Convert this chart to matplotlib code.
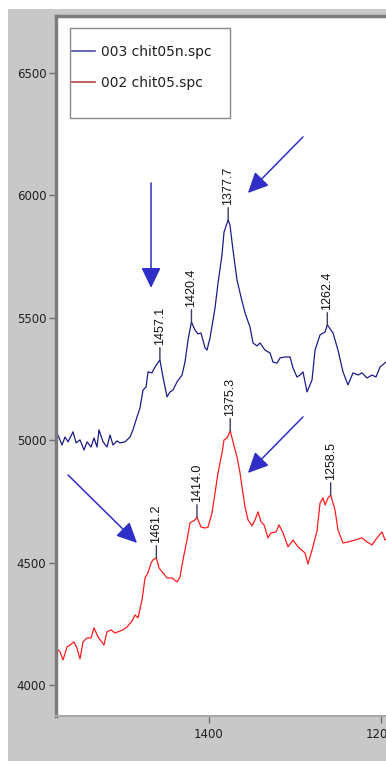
import matplotlib
matplotlib.use("Agg")
import matplotlib.pyplot as plt
from matplotlib.patches import Rectangle
from matplotlib.lines import Line2D

# upper trace: 003 chit05n.spc
wn_n = [1579.0, 1575.6, 1570.9, 1567.4, 1563.9, 1558.1, 1554.6, 1550.0, 1545.3, 1541.8,
        1537.2, 1533.7, 1530.2, 1527.9, 1523.2, 1518.6, 1515.1, 1511.6, 1507.0, 1503.5,
        1497.7, 1491.8, 1488.4, 1483.7, 1480.2, 1476.7, 1473.2, 1470.9, 1466.3, 1462.8,
        1457.1, 1453.5, 1448.8, 1445.3, 1441.8, 1437.2, 1431.4, 1427.9, 1424.4, 1420.4,
        1416.3, 1412.8, 1409.3, 1404.6, 1402.3, 1398.8, 1393.0, 1389.5, 1384.9, 1382.5,
        1377.7, 1375.6, 1372.1, 1367.4, 1362.8, 1358.1, 1352.3, 1348.8, 1344.2, 1340.7,
        1334.9, 1329.0, 1325.6, 1320.9, 1317.4, 1311.6, 1305.8, 1302.3, 1297.7, 1294.2,
        1290.7, 1286.0, 1280.2, 1276.7, 1270.9, 1265.1, 1262.4, 1255.8, 1250.0, 1244.2,
        1238.4, 1232.5, 1226.7, 1222.1, 1216.3, 1210.4, 1205.8, 1201.1, 1194.2, 1190.0]
int_n = [5001, 5021, 4980, 5013, 4993, 5034, 4989, 5001, 4960, 4993,
         4972, 5009, 4972, 5042, 4993, 4972, 5021, 4980, 4997, 4989,
         4993, 5013, 5042, 5095, 5132, 5205, 5217, 5279, 5275, 5299,
         5328, 5258, 5177, 5197, 5205, 5238, 5266, 5319, 5409, 5483,
         5450, 5434, 5438, 5377, 5368, 5418, 5540, 5642, 5757, 5851,
         5900, 5879, 5777, 5654, 5585, 5520, 5462, 5397, 5385, 5397,
         5368, 5356, 5319, 5315, 5336, 5340, 5340, 5295, 5258, 5266,
         5279, 5197, 5246, 5368, 5430, 5442, 5471, 5438, 5368, 5279,
         5226, 5275, 5266, 5275, 5254, 5266, 5258, 5299, 5319, 5330]

# lower trace: 002 chit05.spc
wn_o = [1577.9, 1573.2, 1569.7, 1565.1, 1561.6, 1557.0, 1553.5, 1550.0, 1546.5, 1541.8,
        1537.2, 1533.7, 1529.0, 1522.1, 1518.6, 1513.9, 1509.3, 1505.8, 1500.0, 1495.3,
        1489.5, 1486.0, 1482.5, 1477.9, 1474.4, 1470.9, 1467.4, 1465.1, 1461.2, 1458.1,
        1453.5, 1448.8, 1443.0, 1437.2, 1433.7, 1430.2, 1425.6, 1422.1, 1416.3, 1414.0,
        1409.3, 1404.6, 1401.1, 1396.5, 1393.0, 1389.5, 1384.9, 1382.5, 1379.0, 1375.3,
        1372.1, 1367.4, 1363.9, 1361.6, 1358.1, 1354.6, 1350.0, 1346.5, 1343.0, 1339.5,
        1336.0, 1331.4, 1327.9, 1322.1, 1318.6, 1313.9, 1308.1, 1302.3, 1296.5, 1288.3,
        1284.9, 1280.2, 1274.4, 1270.9, 1267.4, 1265.1, 1261.6, 1258.5, 1253.5, 1250.0,
        1244.2, 1238.4, 1230.2, 1222.1, 1216.3, 1210.4, 1204.6, 1198.8, 1195.3, 1190.0]
int_o = [4151, 4135, 4102, 4155, 4163, 4176, 4151, 4106, 4176, 4192,
         4192, 4233, 4196, 4163, 4217, 4225, 4212, 4217, 4225, 4237,
         4261, 4286, 4274, 4347, 4437, 4458, 4498, 4511, 4519, 4478,
         4458, 4437, 4437, 4421, 4441, 4511, 4592, 4662, 4674, 4686,
         4645, 4641, 4645, 4703, 4784, 4866, 4948, 5001, 5009, 5038,
         4993, 4931, 4866, 4809, 4727, 4674, 4650, 4674, 4707, 4666,
         4654, 4601, 4621, 4625, 4654, 4621, 4564, 4592, 4564, 4539,
         4494, 4551, 4629, 4743, 4764, 4735, 4764, 4776, 4715, 4633,
         4580, 4584, 4592, 4601, 4584, 4572, 4601, 4625, 4592, 4600]

peaks_n = [1457.1, 1420.4, 1377.7, 1262.4]
peaks_o = [1461.2, 1414.0, 1375.3, 1258.5]

# blue arrows: (tail wn, tail intensity, tip wn, tip intensity)
arrows = [(1467.4, 6051, 1467.4, 5622),
          (1290.7, 6239, 1354.7, 6010),
          (1290.7, 5095, 1354.7, 4866),
          (1564.0, 4858, 1483.7, 4580)]

W, H = 386, 761
fig = plt.figure(figsize=(W / 100, H / 100), dpi=100, facecolor="white")
fig.add_artist(Rectangle((8 / W, 0), 1, 1 - 9 / H, transform=fig.transFigure,
                         facecolor="#c8c8c8", edgecolor="none", zorder=-5))

left, top, bottom = 56 / W, 1 - 16 / H, 1 - 716 / H
xmin, xmax = 1577.9, 1150
ax = fig.add_axes([left, bottom, (xmin - xmax) * 0.86 / W, top - bottom])
ax.set_facecolor("white")

ax.plot(wn_n, int_n, color="#1c1c8c", lw=0.9)
ax.plot(wn_o, int_o, color="#ff1c1c", lw=0.9)


def mark_peaks(wn, inten, peaks):
    for p in peaks:
        y = inten[wn.index(p)]
        ax.annotate(f"{p:.1f}", xy=(p, y), xytext=(0, 15), textcoords="offset pixels",
                    rotation=90, ha="center", va="bottom", fontsize=9,
                    family="Liberation Sans", color="#111111",
                    arrowprops=dict(arrowstyle="-", color="#3c3c64", lw=1.0,
                                    shrinkA=0, shrinkB=0))


mark_peaks(wn_n, int_n, peaks_n)
mark_peaks(wn_o, int_o, peaks_o)

for x0, y0, x1, y1 in arrows:
    ax.annotate("", xy=(x1, y1), xytext=(x0, y0),
                arrowprops=dict(arrowstyle="-|>,head_length=1.25,head_width=0.6",
                                mutation_scale=10, color="#2f2fc8", lw=1.1,
                                shrinkA=0, shrinkB=0))

ax.set_xticks([1400, 1200])
ax.set_yticks([4000, 4500, 5000, 5500, 6000, 6500])
ax.set_xlim(xmin, xmax)
ax.set_ylim(3873, 6733)
ax.tick_params(direction="out", length=5, width=1, color="#707070",
               labelsize=8.5, labelcolor="#202020")
ax.tick_params(axis="y", pad=2)
ax.tick_params(axis="x", pad=4)

for side in ("left", "top"):
    ax.spines[side].set_color("#7c7c7c")
    ax.spines[side].set_linewidth(2.5)
ax.spines["bottom"].set_color("#a8a8a8")
ax.spines["bottom"].set_linewidth(1.5)
ax.spines["right"].set_visible(False)

# legend box
fig.add_artist(Rectangle((70 / W, 1 - 118 / H), 160 / W, 90 / H, transform=fig.transFigure,
                         facecolor="white", edgecolor="#8a8a8a", lw=1.0, zorder=3))
handles = [Line2D([], [], color="#4a4aa0", lw=1.2),
           Line2D([], [], color="#b04848", lw=1.2)]
leg = fig.legend(handles, ["003 chit05n.spc", "002 chit05.spc"],
                 loc="upper left", bbox_to_anchor=(72 / W, 1 - 45 / H),
                 bbox_transform=fig.transFigure, frameon=False, borderpad=0,
                 borderaxespad=0, fontsize=10, handlelength=1.65,
                 handletextpad=0.45, labelspacing=1.2)
leg.set_zorder(4)
for t in leg.get_texts():
    t.set_color("#202020")

fig.savefig("out.png", dpi=100)
